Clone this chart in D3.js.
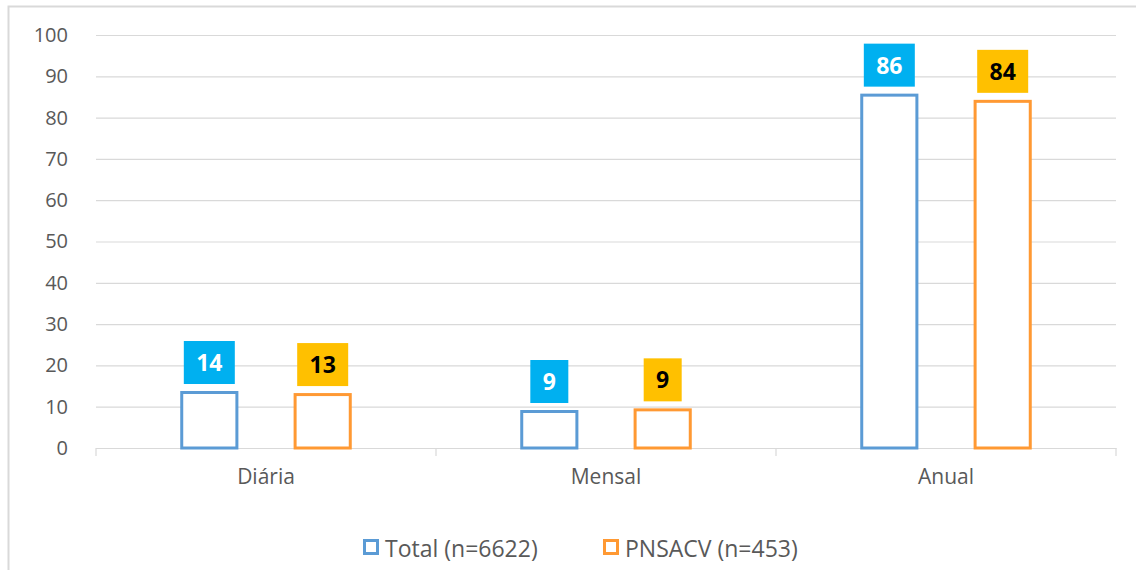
<!DOCTYPE html>
<html>
<head>
<meta charset="utf-8">
<script src="https://cdn.jsdelivr.net/npm/d3@7"></script>
<style>
  body { margin: 0; background: #fff; }
  text { font-family: "Open Sans", "Noto Sans", sans-serif; }
</style>
</head>
<body>
<div id="chart"></div>
<script>
// data
var categories = ["Diária", "Mensal", "Anual"];
var seriesNames = ["Total (n=6622)", "PNSACV (n=453)"];
var totalValues = [13.8, 9.2, 85.8];
var pnsacvValues = [13.3, 9.6, 84.3];
var totalLabels = ["14", "9", "86"];
var pnsacvLabels = ["13", "9", "84"];
var yTicks = [0, 10, 20, 30, 40, 50, 60, 70, 80, 90, 100];

var svgWidth = 1136;
var svgHeight = 570;

var margin = { top: 35, right: 20, bottom: 122, left: 96 };
var chartWidth = svgWidth - margin.left - margin.right;
var chartHeight = svgHeight - margin.top - margin.bottom;

var colors = ["#5b9bd5", "#ff9933"];
var labelFill = ["#00b0f0", "#ffc000"];
var labelText = ["#ffffff", "#000000"];

var svg = d3.select("#chart")
    .append("svg")
    .attr("width", svgWidth)
    .attr("height", svgHeight);

// outer frame (top + left visible)
svg.append("path")
    .attr("d", "M8.5,570 L8.5,6.5 L1136,6.5")
    .attr("fill", "none")
    .attr("stroke", "#d9d9d9")
    .attr("stroke-width", 2);

var chartGroup = svg.append("g")
    .attr("transform", `translate(${margin.left}, ${margin.top})`);

var x0 = d3.scaleBand()
    .domain(categories)
    .range([0, chartWidth]);

var x1 = d3.scaleBand()
    .domain(seriesNames)
    .range([0, x0.bandwidth()])
    .paddingInner(0.487)
    .paddingOuter(0.743);

var y = d3.scaleLinear()
    .domain([0, 100])
    .range([chartHeight, 0]);

// gridlines + y labels
var leftAxis = d3.axisLeft(y)
    .tickValues(yTicks)
    .tickSize(-chartWidth)
    .tickPadding(28);

var yAxis = chartGroup.append("g").call(leftAxis);
yAxis.select(".domain").remove();
yAxis.selectAll("line").attr("stroke", "#d9d9d9").attr("stroke-width", 1.2);
yAxis.selectAll("text")
    .attr("fill", "#595959")
    .style("font-size", "20px");

// category axis
var bottomAxis = d3.axisBottom(x0).tickSize(0).tickPadding(21);
var xAxis = chartGroup.append("g")
    .attr("transform", `translate(0, ${chartHeight})`)
    .call(bottomAxis);
xAxis.select(".domain").attr("stroke", "#d9d9d9").attr("stroke-width", 1.2);
xAxis.selectAll("text")
    .attr("fill", "#595959")
    .style("font-size", "21px");

// category separators
chartGroup.selectAll(".sep")
    .data(categories.concat(["end"]))
    .enter()
    .append("line")
    .attr("class", "sep")
    .attr("x1", (d, i) => i * x0.bandwidth())
    .attr("x2", (d, i) => i * x0.bandwidth())
    .attr("y1", chartHeight)
    .attr("y2", chartHeight + 8)
    .attr("stroke", "#d9d9d9")
    .attr("stroke-width", 1.2);

var series = [
    { name: seriesNames[0], values: totalValues, labels: totalLabels },
    { name: seriesNames[1], values: pnsacvValues, labels: pnsacvLabels }
];

series.forEach(function(s, si) {
    var g = chartGroup.append("g");

    g.selectAll("rect.bar")
        .data(categories)
        .enter()
        .append("rect")
        .attr("class", "bar")
        .attr("x", d => x0(d) + x1(s.name) + 1.5)
        .attr("y", (d, i) => y(s.values[i]) + 1.5)
        .attr("width", x1.bandwidth() - 3)
        .attr("height", (d, i) => chartHeight - y(s.values[i]) - 1.5)
        .attr("fill", "#fff")
        .attr("stroke", colors[si])
        .attr("stroke-width", 3);

    var lab = g.selectAll("g.lab")
        .data(categories)
        .enter()
        .append("g")
        .attr("class", "lab")
        .attr("transform", (d, i) => `translate(${x0(d) + x1(s.name) + x1.bandwidth() / 2}, ${y(s.values[i]) - 7})`);

    lab.each(function(d, i) {
        var gg = d3.select(this);
        var txt = s.labels[i];
        var w = txt.length > 1 ? 51 : 38;
        gg.append("rect")
            .attr("x", -w / 2)
            .attr("y", -43)
            .attr("width", w)
            .attr("height", 43)
            .attr("fill", labelFill[si]);
        gg.append("text")
            .attr("x", 0)
            .attr("y", -13)
            .attr("text-anchor", "middle")
            .attr("fill", labelText[si])
            .style("font-size", "23px")
            .style("font-weight", "bold")
            .text(txt);
    });
});

// legend
var legend = svg.append("g");
var legendX = [363, 603];
series.forEach(function(s, si) {
    legend.append("rect")
        .attr("x", legendX[si] + 1.5)
        .attr("y", 540.5)
        .attr("width", 13)
        .attr("height", 13)
        .attr("fill", "#fff")
        .attr("stroke", colors[si])
        .attr("stroke-width", 3);
    legend.append("text")
        .attr("x", legendX[si] + 22)
        .attr("y", 557)
        .attr("fill", "#595959")
        .style("font-size", "23px")
        .text(s.name);
});
</script>
</body>
</html>
